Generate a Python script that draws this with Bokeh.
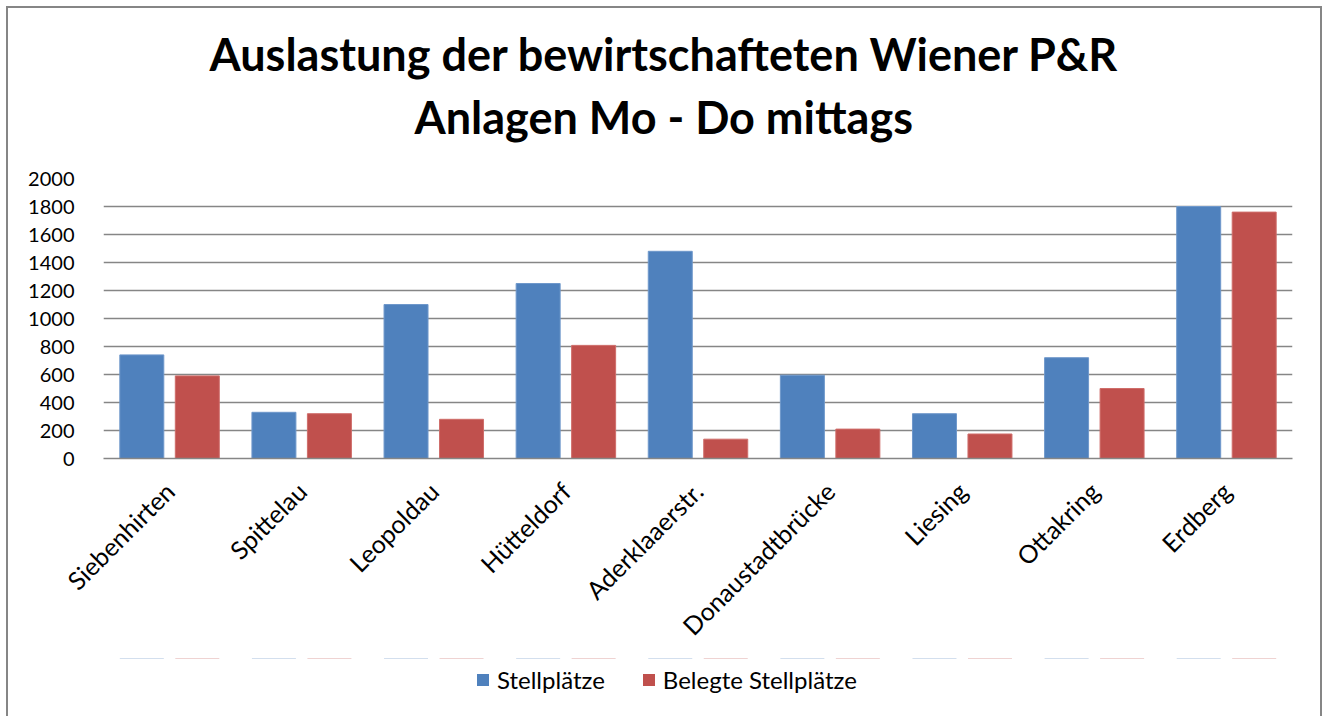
from bokeh.plotting import figure
from bokeh.layouts import column
from bokeh.models import (FactorRange, Range1d, ColumnDataSource, FixedTicker, Legend,
                          LegendItem, Title)
from bokeh.transform import dodge
from bokeh.embed import file_html
from bokeh.resources import INLINE
import math

categories = ["Siebenhirten", "Spittelau", "Leopoldau", "Hütteldorf", "Aderklaaerstr.",
              "Donaustadtbrücke", "Liesing", "Ottakring", "Erdberg"]
stellplaetze = [740, 330, 1100, 1250, 1480, 595, 320, 720, 1800]
belegte = [590, 320, 280, 808, 138, 210, 175, 500, 1760]
y_ticks = [0, 200, 400, 600, 800, 1000, 1200, 1400, 1600, 1800, 2000]
series_names = ["Stellplätze", "Belegte Stellplätze"]
title_lines = ["Auslastung der bewirtschafteten Wiener P&R", "Anlagen Mo - Do mittags"]

FONT = "Lato"
BLUE = "#4F81BD"
RED = "#C0504D"
GRID = "#868686"
W = 1325

source = ColumnDataSource(dict(cat=categories, s=stellplaetze, b=belegte))

p = figure(frame_width=1189, frame_height=280,
           x_range=FactorRange(*categories, range_padding=0),
           y_range=Range1d(0, 2000), output_backend="svg", toolbar_location=None,
           min_border_left=103, min_border_right=33, min_border_top=178,
           min_border_bottom=200)
p.outline_line_color = None
p.background_fill_color = "white"
p.border_fill_alpha = 0
p.styles = {
    "background": ("linear-gradient(#868686,#868686) 6px 6px / 2px 100% no-repeat, "
                   "linear-gradient(#868686,#868686) 6px 6px / 1316px 2px no-repeat, "
                   "linear-gradient(#868686,#868686) 1320px 6px / 2px 100% no-repeat, white"),
}

p.vbar(x=dodge("cat", -0.21, range=p.x_range), top="s", width=0.333, source=source,
       fill_color=BLUE, line_color="#6f98cb", line_width=1)
p.vbar(x=dodge("cat", 0.21, range=p.x_range), top="b", width=0.333, source=source,
       fill_color=RED, line_color="#cf6d6a", line_width=1)

# grid
p.xgrid.grid_line_color = None
p.ygrid.grid_line_color = GRID
p.ygrid.grid_line_width = 1.5
p.yaxis.ticker = FixedTicker(ticks=y_ticks)

# y axis
p.yaxis.axis_line_color = None
p.yaxis.major_tick_line_color = None
p.yaxis.minor_tick_line_color = None
p.yaxis.major_tick_out = 0
p.yaxis.major_tick_in = 0
p.yaxis.major_label_standoff = 29
p.yaxis.major_label_text_font = FONT
p.yaxis.major_label_text_font_size = "20px"
p.yaxis.major_label_text_color = "black"

# x axis
p.xaxis.axis_line_color = GRID
p.xaxis.axis_line_width = 1.5
p.xaxis.major_tick_line_color = None
p.xaxis.major_tick_out = 0
p.xaxis.major_tick_in = 0
p.xaxis.major_label_orientation = math.pi / 4
p.xaxis.major_label_standoff = 28
p.xaxis.major_label_text_font = FONT
p.xaxis.major_label_text_font_size = "25px"
p.xaxis.major_label_text_color = "black"

# titles: spacer nearest the frame, then line 2, then line 1
p.add_layout(Title(text=" ", text_font_size="10px", standoff=22), "above")
p.add_layout(Title(text=title_lines[1], align="left", offset=311, text_font=FONT,
                   text_font_style="bold", text_font_size="45px", text_color="black",
                   standoff=0), "above")
p.add_layout(Title(text=title_lines[0], align="left", offset=106, text_font=FONT,
                   text_font_style="bold", text_font_size="45px", text_color="black",
                   standoff=14), "above")

# legend strip below the chart (its frame is aligned with the chart frame)
LH = 58
pl = figure(width=W, height=LH, x_range=FactorRange(*categories, range_padding=0),
            y_range=Range1d(-20, -10),
            x_axis_location=None, y_axis_location=None, output_backend="svg",
            toolbar_location=None, min_border=0)
pl.grid.visible = False
pl.outline_line_color = None
pl.background_fill_alpha = 0
pl.border_fill_alpha = 0
pl.styles = {
    "background": ("linear-gradient(#868686,#868686) 6px 0px / 2px 100% no-repeat, "
                   "linear-gradient(#868686,#868686) 1320px 0px / 2px 100% no-repeat, white"),
}
lr1 = pl.vbar(x=dodge("cat", -0.21, range=pl.x_range), top="s", width=0.333, source=source,
              fill_color=BLUE, line_alpha=0)
lr2 = pl.vbar(x=dodge("cat", 0.21, range=pl.x_range), top="b", width=0.333, source=source,
              fill_color=RED, line_alpha=0)
legend = Legend(items=[LegendItem(label=series_names[0], renderers=[lr1]),
                       LegendItem(label=series_names[1], renderers=[lr2])],
                location=(372, 22), orientation="horizontal",
                glyph_width=15, glyph_height=15, label_standoff=7, spacing=36,
                padding=0, margin=0, border_line_color=None, background_fill_alpha=0,
                label_text_font=FONT, label_text_font_size="24px", label_text_color="black")
pl.add_layout(legend, "center")

layout = column(p, pl, spacing=0)
open("out.html", "w").write(file_html(layout, INLINE))
